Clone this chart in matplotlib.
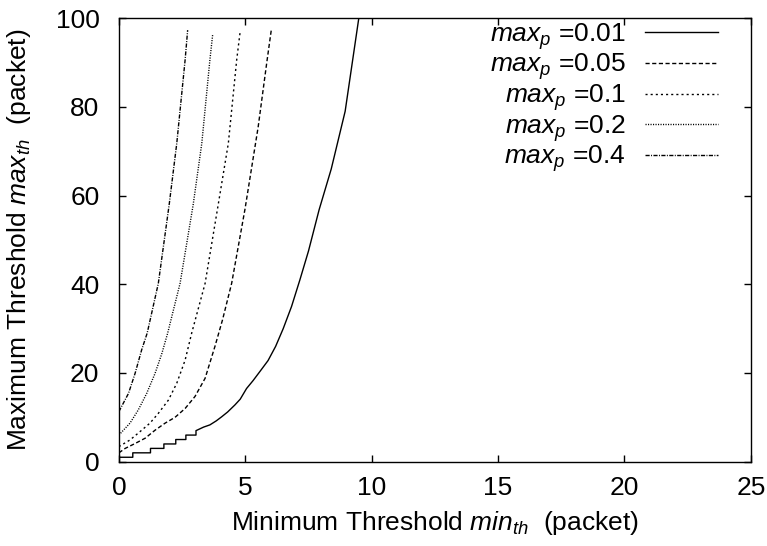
import matplotlib
matplotlib.use("Agg")
import matplotlib.pyplot as plt

plt.rcParams['font.family'] = ['Liberation Sans', 'DejaVu Sans']
plt.rcParams['mathtext.fontset'] = 'custom'
plt.rcParams['mathtext.rm'] = 'Liberation Sans'
plt.rcParams['mathtext.it'] = 'Liberation Sans:italic'
plt.rcParams['font.size'] = 19

# max_p = 0.01
x_001 = [0, 0.55, 0.55, 1.25, 1.25, 1.78, 1.78, 2.25, 2.25, 2.65, 2.65, 3.05, 3.05, 3.35,
         3.6, 3.85, 4.06, 4.3, 4.59, 4.8, 5.05, 5.31, 5.6, 5.9, 6.2, 6.5, 6.83, 7.16, 7.5,
         7.92, 8.4, 8.95, 9.49]
y_001 = [1, 1, 2, 2, 3, 3, 4, 4, 5, 5, 6, 6, 7, 7.8,
         8.3, 9.2, 10.1, 11.2, 12.8, 14.1, 16.5, 18.3, 20.5, 22.8, 26, 30, 35, 41, 47.5,
         56.8, 66, 79, 100]
# max_p = 0.05
x_005 = [0, 0.25, 0.64, 1.04, 1.43, 1.83, 2.22, 2.62, 3.01, 3.41, 3.8, 4.1, 4.46, 4.99, 5.51, 5.85, 6.03]
y_005 = [2, 3, 4.1, 5.3, 7.1, 8.7, 10, 12, 14.7, 18.8, 26, 32, 40.2, 57, 75.5, 90, 97.4]
# max_p = 0.1
x_01 = [0, 0.44, 0.84, 1.23, 1.56, 1.96, 2.29, 2.62, 2.88, 3.41, 3.93, 4.33, 4.66, 4.8]
y_01 = [3.4, 4.9, 6.8, 8.7, 10.9, 13.9, 17.7, 22.9, 29, 40.2, 58, 71.8, 90.6, 97.1]
# max_p = 0.2
x_02 = [0, 0.44, 0.77, 1.1, 1.43, 1.7, 1.93, 2.42, 2.94, 3.28, 3.6, 3.71]
y_02 = [6, 8.7, 11.7, 15.4, 19.9, 24.4, 29, 40.2, 58, 71.8, 90.6, 96.3]
# max_p = 0.4
x_04 = [0, 0.38, 0.64, 0.9, 1.12, 1.56, 1.99, 2.29, 2.62, 2.72]
y_04 = [11.3, 15.4, 19.9, 25.2, 29, 40.2, 58, 71.8, 90.6, 97.3]

labels = ['0.01', '0.05', '0.1', '0.2', '0.4']

fig = plt.figure(figsize=(7.67, 5.46), dpi=100)
ax = fig.add_axes([0.155, 0.1544, 0.824, 0.8123])

ax.plot(x_001, y_001, color='black', lw=1, ls='-', label=r'$max_p$ =' + labels[0])
ax.plot(x_005, y_005, color='black', lw=1, ls=(0, (3, 1.8)), label=r'$max_p$ =' + labels[1])
ax.plot(x_01, y_01, color='black', lw=1, ls=(0, (1.5, 2.2)), label=r'$max_p$ =' + labels[2])
ax.plot(x_02, y_02, color='black', lw=1, ls=(0, (0.8, 1.0)), label=r'$max_p$ =' + labels[3])
ax.plot(x_04, y_04, color='black', lw=1, ls=(0, (3, 1, 0.7, 1)), label=r'$max_p$ =' + labels[4])

ax.set_xlim(0, 25)
ax.set_ylim(0, 100)
ax.set_xticks([0, 5, 10, 15, 20, 25])
ax.set_yticks([0, 20, 40, 60, 80, 100])
ax.tick_params(direction='in', top=True, right=True, length=5, width=1)
ax.tick_params(axis='x', pad=10)
ax.tick_params(axis='y', pad=14)
for s in ax.spines.values():
    s.set_linewidth(1)

ax.set_xlabel(r'Minimum Threshold $min_{th}$  (packet)', labelpad=7)
ax.set_ylabel(r'Maximum Threshold $max_{th}$  (packet)', labelpad=16)

ax.legend(loc='upper right', bbox_to_anchor=(0.948, 0.994), frameon=False, markerfirst=False,
          handlelength=2.75, handletextpad=0.75, labelspacing=0.0, borderaxespad=0, borderpad=0)

fig.savefig('out.png', dpi=100)
